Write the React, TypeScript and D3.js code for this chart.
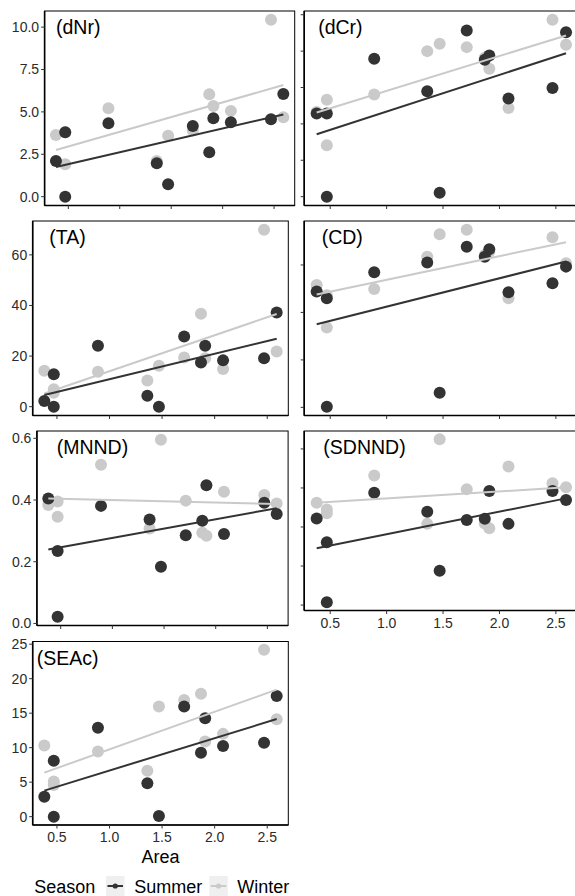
import React from "react";
import * as d3 from "d3";

// site area (x) shared by every panel, same order in every series
const area = [0.38, 0.47, 0.47, 0.89, 1.36, 1.47, 1.71, 1.87, 1.91, 2.08, 2.47, 2.59];

const dNrSummer = [2.1, 3.8, 0.0, 4.33, 1.97, 0.73, 4.17, 2.62, 4.63, 4.39, 4.57, 6.06];
const dNrWinter = [3.64, 1.91, 3.8, 5.22, 2.1, 3.6, 3.9, 6.04, 5.35, 5.06, 10.43, 4.69];

const dCrSummer = [4.57, 4.57, 0.0, 7.58, 5.79, 0.22, 9.13, 7.53, 7.76, 5.39, 5.97, 9.04];
const dCrWinter = [4.66, 5.33, 2.83, 5.61, 8.0, 8.4, 8.22, 7.63, 7.03, 4.88, 9.72, 8.35];

const taSummer = [2.2, 12.8, 0, 24.1, 4.35, 0, 27.7, 17.5, 24.1, 18.3, 19.1, 37.2];
const taWinter = [14.2, 6.9, 5.5, 13.8, 10.3, 16.2, 19.4, 36.7, 19.1, 14.9, 69.9, 21.8];

const cdSummer = [4.88, 4.6, 0.03, 5.69, 6.1, 0.62, 6.77, 6.35, 6.66, 4.85, 5.23, 5.93];
const cdWinter = [5.16, 4.72, 3.36, 4.99, 6.35, 7.29, 7.48, 6.42, 6.56, 4.6, 7.17, 6.07];

const mnndSummer = [0.405, 0.235, 0.022, 0.381, 0.337, 0.184, 0.286, 0.333, 0.448, 0.29, 0.391, 0.355];
const mnndWinter = [0.384, 0.395, 0.346, 0.514, 0.308, 0.595, 0.398, 0.294, 0.284, 0.427, 0.416, 0.389];

const sdnndSummer = [0.222, 0.161, 0.007, 0.288, 0.239, 0.088, 0.218, 0.221, 0.292, 0.208, 0.292, 0.269];
const sdnndWinter = [0.262, 0.245, 0.235, 0.332, 0.208, 0.425, 0.297, 0.209, 0.197, 0.355, 0.312, 0.302];

const seacSummer = [2.9, 8.12, 0, 12.9, 4.84, 0.1, 15.96, 9.28, 14.26, 10.25, 10.73, 17.5];
const seacWinter = [10.3, 5.08, 4.6, 9.43, 6.67, 15.96, 16.92, 17.8, 10.88, 12.0, 24.18, 14.12];

const xTicks = [0.5, 1.0, 1.5, 2.0, 2.5];
const dNrTicks = [0, 2.5, 5, 7.5, 10];
const dCrTicks = [0, 2, 4, 6, 8, 10];
const taTicks = [0, 20, 40, 60];
const cdTicks = [0, 2, 4, 6];
const mnndTicks = [0, 0.2, 0.4, 0.6];
const sdnndTicks = [0, 0.1, 0.2, 0.3, 0.4];
const seacTicks = [0, 5, 10, 15, 20, 25];

const seasons = ["Summer", "Winter"];
const COLORS = { Summer: "#333333", Winter: "#cacaca" };
const FONT = "'Liberation Sans', Arial, Helvetica, sans-serif";

// box = [left, right, top, bottom] of each plot area
const PANELS = [
  { name: "(dNr)", summer: dNrSummer, winter: dNrWinter, ticks: dNrTicks, fmt: ".1f", yLabels: true, xLabels: false, box: [44.6, 294.7, 11, 205.5], labX: 11.4 },
  { name: "(dCr)", summer: dCrSummer, winter: dCrWinter, ticks: dCrTicks, fmt: ".1f", yLabels: false, xLabels: false, box: [304.2, 578.5, 11, 205.5], labX: 14 },
  { name: "(TA)", summer: taSummer, winter: taWinter, ticks: taTicks, fmt: "d", yLabels: true, xLabels: false, box: [32.7, 288.3, 221, 415.5], labX: 16.6 },
  { name: "(CD)", summer: cdSummer, winter: cdWinter, ticks: cdTicks, fmt: "d", yLabels: false, xLabels: false, box: [304.2, 578.5, 221, 415.5], labX: 17.5 },
  { name: "(MNND)", summer: mnndSummer, winter: mnndWinter, ticks: mnndTicks, fmt: ".1f", yLabels: true, xLabels: false, box: [36.9, 288.1, 431, 625.5], labX: 19.8 },
  { name: "(SDNND)", summer: sdnndSummer, winter: sdnndWinter, ticks: sdnndTicks, fmt: ".1f", yLabels: false, xLabels: true, box: [304.2, 578.5, 431, 610.5], labX: 19.1 },
  { name: "(SEAc)", summer: seacSummer, winter: seacWinter, ticks: seacTicks, fmt: "d", yLabels: true, xLabels: true, box: [32.7, 288.3, 641.5, 825], labX: 4 },
];

function fit(xs: number[], ys: number[]) {
  const mx = d3.mean(xs) as number;
  const my = d3.mean(ys) as number;
  let sxy = 0, sxx = 0;
  xs.forEach((x, i) => {
    sxy += (x - mx) * (ys[i] - my);
    sxx += (x - mx) * (x - mx);
  });
  const b = sxy / sxx;
  const a = my - b * mx;
  const ext = d3.extent(xs) as [number, number];
  return ext.map((x) => [x, a + b * x] as [number, number]);
}

function expand([lo, hi]: [number, number]): [number, number] {
  const pad = (hi - lo) * 0.05;
  return [lo - pad, hi + pad];
}

const Panel = ({ p }: { p: any }) => {
  const [x0, x1, y0, y1] = p.box;
  const x = d3.scaleLinear().domain(expand(d3.extent(area) as [number, number])).range([x0, x1]);
  const all = [...p.summer, ...p.winter];
  const y = d3.scaleLinear().domain(expand(d3.extent(all) as [number, number])).range([y1, y0]);
  const fmt = d3.format(p.fmt);
  const line = d3.line<[number, number]>().x((d) => x(d[0])).y((d) => y(d[1]));
  const series: Record<string, number[]> = { Summer: p.summer, Winter: p.winter };

  return (
    <g>
      <rect x={x0} y={y0} width={x1 - x0} height={y1 - y0} fill="#fff" stroke="#000" strokeWidth={1} />
      {/* winter first, summer on top */}
      {["Winter", "Summer"].map((s) => (
        <g key={s}>
          {series[s].map((v, i) => (
            <circle key={i} cx={x(area[i])} cy={y(v)} r={6} fill={COLORS[s as keyof typeof COLORS]} />
          ))}
        </g>
      ))}
      {["Winter", "Summer"].map((s) => (
        <path key={s} d={line(fit(area, series[s])) || ""} fill="none"
          stroke={COLORS[s as keyof typeof COLORS]} strokeWidth={2} />
      ))}
      <line x1={x0} x2={x0} y1={y0} y2={y1} stroke="#000" strokeWidth={1.6} />
      <line x1={x0} x2={x1} y1={y1} y2={y1} stroke="#000" strokeWidth={1.6} />
      {p.ticks.map((t: number) => (
        <g key={t}>
          <line x1={x0 - 3.5} x2={x0} y1={y(t)} y2={y(t)} stroke="#333" strokeWidth={1} />
          {p.yLabels && (
            <text x={x0 - 5.5} y={y(t)} dy="0.35em" textAnchor="end" fontSize={14} fill="#2b2b2b" fontFamily={FONT}>
              {fmt(t)}
            </text>
          )}
        </g>
      ))}
      {xTicks.map((t) => (
        <g key={t}>
          <line x1={x(t)} x2={x(t)} y1={y1} y2={y1 + 3.5} stroke="#333" strokeWidth={1} />
          {p.xLabels && (
            <text x={x(t)} y={y1 + 17} textAnchor="middle" fontSize={14} fill="#2b2b2b" fontFamily={FONT}>
              {d3.format(".1f")(t)}
            </text>
          )}
        </g>
      ))}
      <text x={x0 + p.labX} y={y0 + 23} fontSize={19.5} fill="#000" fontFamily={FONT}>
        {p.name}
      </text>
    </g>
  );
};

const Legend = () => {
  const keys = [
    { s: seasons[0], kx: 106, tx: 134.3 },
    { s: seasons[1], kx: 209.3, tx: 237.3 },
  ];
  return (
    <g fontFamily={FONT} fontSize={18} fill="#000">
      <text x={34.3} y={893}>Season</text>
      {keys.map((k) => (
        <g key={k.s}>
          <rect x={k.kx} y={876} width={18.5} height={20} fill="#efefef" />
          <line x1={k.kx + 1.5} x2={k.kx + 17} y1={886} y2={886}
            stroke={COLORS[k.s as keyof typeof COLORS]} strokeWidth={2} />
          <circle cx={k.kx + 9.25} cy={886} r={2.6} fill={COLORS[k.s as keyof typeof COLORS]} />
          <text x={k.tx} y={893}>{k.s}</text>
        </g>
      ))}
    </g>
  );
};

export default function App() {
  return (
    <svg width={575} height={896} style={{ position: "absolute", left: 0, top: 0, background: "#fff" }}>
      {PANELS.map((p) => (
        <Panel key={p.name} p={p} />
      ))}
      <text x={160.5} y={862.5} textAnchor="middle" fontSize={18} fill="#000" fontFamily={FONT}>
        Area
      </text>
      <Legend />
    </svg>
  );
}
